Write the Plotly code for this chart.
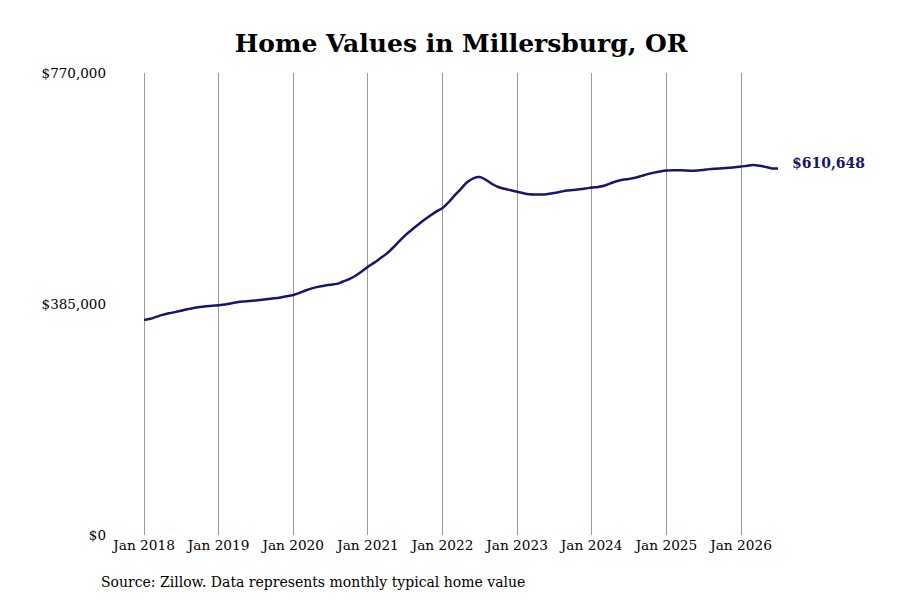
import plotly.graph_objects as go
import pandas as pd

# monthly typical home value, Jan 2018 - Jul 2026
months = pd.date_range("2018-01-01", "2026-07-01", freq="MS")
values = [
    358300, 360500, 363500, 366800, 369500, 371500, 373800, 376300, 378500, 380000, 381200, 382200,  # 2018
    383000, 384200, 386000, 388000, 389300, 390000, 391000, 392200, 393300, 394500, 396000, 397800,  # 2019
    400000, 403500, 407500, 411000, 413500, 415500, 417000, 418500, 422500, 426500, 432000, 439000,  # 2020
    447000, 454000, 461000, 468500, 478000, 489000, 499000, 508000, 516500, 524500, 532000, 539000,  # 2021
    545000, 555000, 566000, 577000, 588000, 594500, 596500, 592000, 585000, 580000, 577000, 574500,  # 2022
    572000, 569500, 567800, 567500, 567500, 568500, 570000, 572000, 574000, 575000, 576200, 577500,  # 2023
    579000, 580000, 582000, 586000, 589500, 592000, 593500, 595500, 598500, 601500, 604000, 606000,  # 2024
    607500, 608000, 608000, 607500, 607200, 607500, 608500, 609800, 610500, 611200, 612000, 613000,  # 2025
    614000, 615500, 616500, 615500, 613500, 611000, 610648,                                          # 2026
]

year_ticks = pd.date_range("2018-01-01", "2026-01-01", freq="YS")
year_labels = [d.strftime("Jan %Y") for d in year_ticks]
y_ticks = [0, 385000, 770000]
y_labels = ["$0", "$385,000", "$770,000"]

line_color = "#16166a"
font = "DejaVu Serif"

# page body adds 8px, so the figure is 892x592
W, H = 892, 592
L, R, T, B = 132, 122, 65, 65
pw, ph = W - L - R, H - T - B
x_start = pd.Timestamp("2017-12-12")  # a little slack so the Jan 2018 gridline shows

fig = go.Figure()
fig.add_trace(go.Scatter(x=months, y=values, mode="lines",
                         line=dict(color=line_color, width=2.5, shape="spline"),
                         hoverinfo="skip"))

fig.add_annotation(x=months[-1], y=values[-1], text="<b>$%s</b>" % format(values[-1], ","),
                   showarrow=False, xanchor="left", yanchor="middle", xshift=12, yshift=6,
                   font=dict(family=font, size=14, color=line_color))

fig.add_annotation(x=(99 - 140) / pw, y=(535 - 582) / ph, xref="paper", yref="paper",
                   text="Source: Zillow. Data represents monthly typical home value",
                   showarrow=False, xanchor="left", yanchor="middle",
                   font=dict(family=font, size=14, color="black"))

fig.update_layout(
    width=W, height=H,
    margin=dict(l=L, r=R, t=T, b=B),
    paper_bgcolor="white", plot_bgcolor="white",
    showlegend=False,
    font=dict(family=font, size=13, color="black"),
    title=dict(text="<b>Home Values in Millersburg, OR</b>", x=0.508, xanchor="center",
               y=(H - 35) / H, yanchor="middle", font=dict(family=font, size=25, color="black")),
)
fig.update_xaxes(range=[x_start, months[-1]], tickvals=year_ticks, ticktext=year_labels,
                 showgrid=True, gridcolor="#999999", gridwidth=1, zeroline=False,
                 showline=False, ticks="", tickfont=dict(size=13.7))
fig.update_yaxes(range=[0, 770000], tickvals=y_ticks, ticktext=y_labels,
                 showgrid=False, zeroline=False, showline=False, ticks="",
                 ticklabelstandoff=33, tickfont=dict(size=13.5))

fig.write_html("out.html")
